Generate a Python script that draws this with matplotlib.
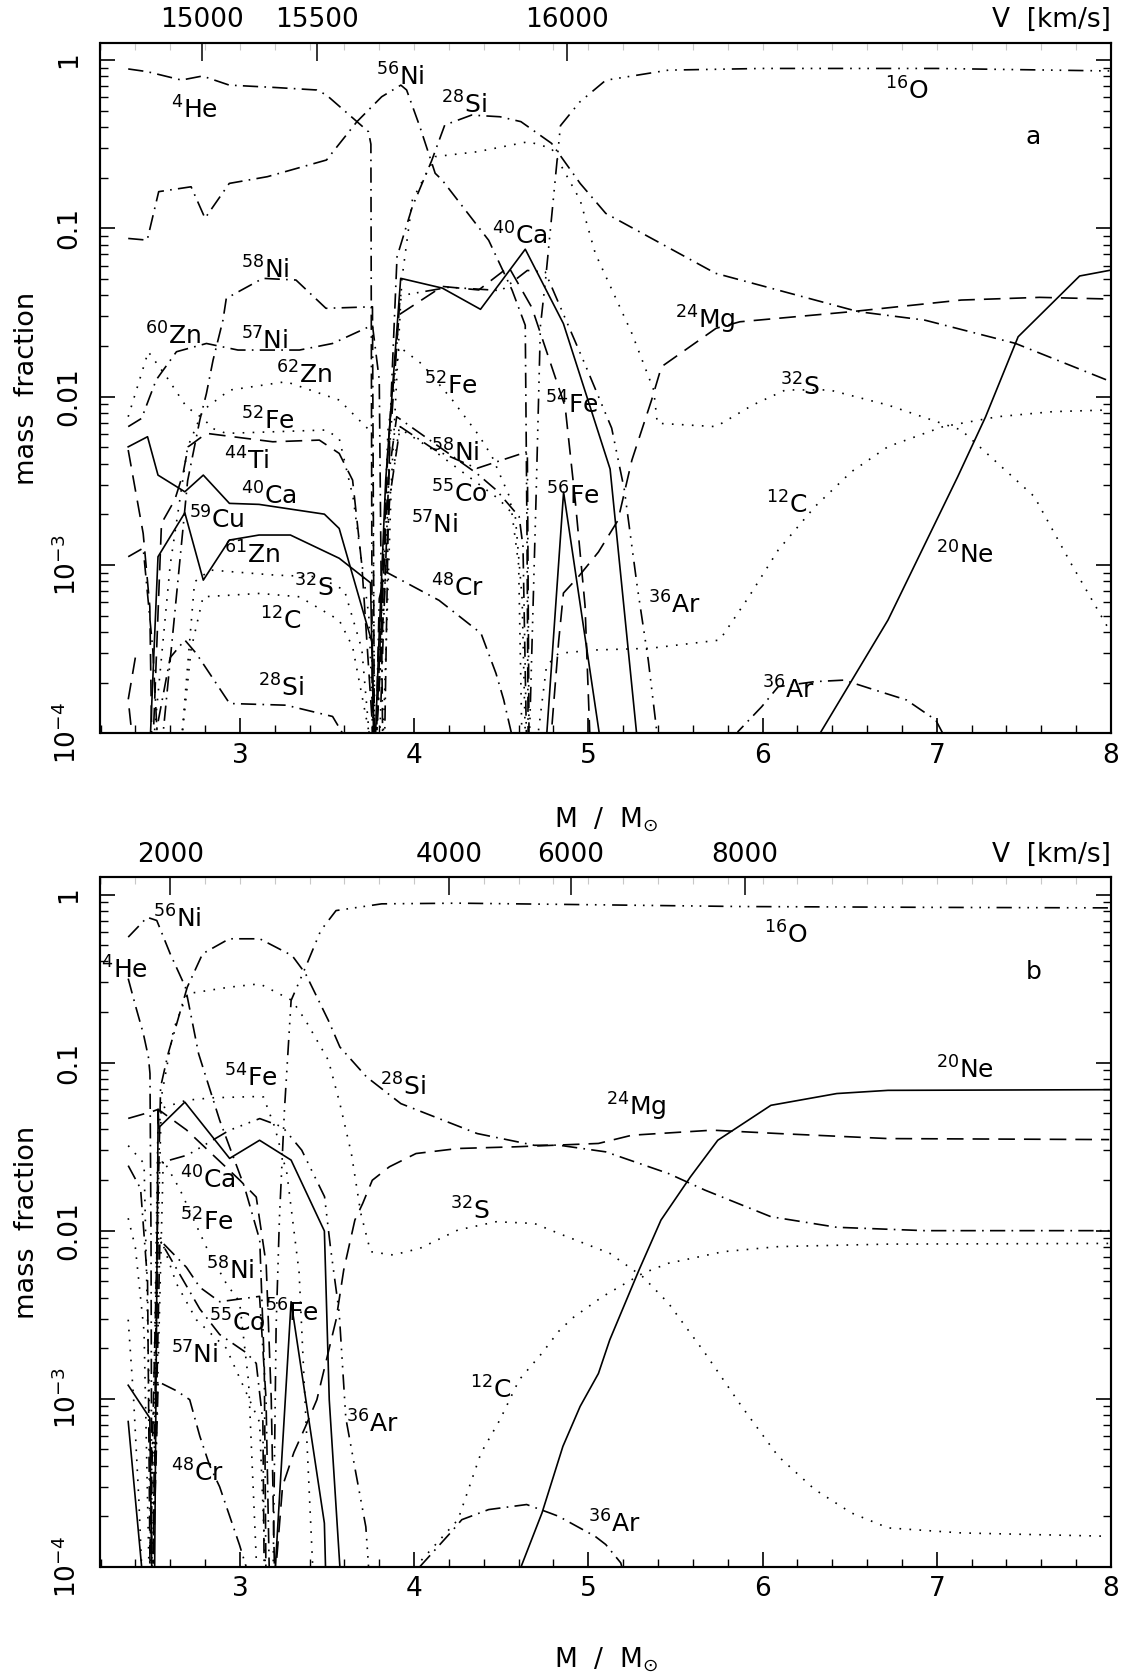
import numpy as np
import matplotlib.pyplot as plt
from matplotlib.ticker import MultipleLocator, FixedLocator, LogLocator, NullFormatter
from matplotlib.transforms import offset_copy

plt.rcParams['font.family'] = 'DejaVu Sans'
plt.rcParams['lines.scale_dashes'] = False

SOLID = '-'
DASH = (0, (12, 6.5))
DOT = (0, (1.2, 6))
DASHDOT = (0, (11, 4.5, 1.2, 4.5))
DASH3DOT = (0, (11, 5, 1.2, 5, 1.2, 5, 1.2, 5))

# ---------------- panel a : mass coordinate M/Msun, log10(mass fraction) ----------------
a_o16_m = [4.66, 4.70, 4.725, 4.755, 4.81, 4.84, 4.95, 5.10, 5.46, 6.0, 7.0, 8.0]
a_o16_lg = [-4.1, -2.6, -1.58, -1.30, -0.71, -0.39, -0.25, -0.12, -0.06, -0.05, -0.05, -0.065]
a_he4_m = [2.359, 2.468, 2.665, 2.785, 2.939, 3.20, 3.442, 3.497, 3.672, 3.738, 3.752, 3.76]
a_he4_lg = [-0.053, -0.069, -0.119, -0.095, -0.149, -0.163, -0.178, -0.208, -0.366, -0.426, -0.5, -4.1]
a_ni56_m = [2.359, 2.468, 2.534, 2.72, 2.80, 2.939, 3.158, 3.497, 3.672, 3.814, 3.924, 3.957,
            4.033, 4.121, 4.161, 4.428, 4.562, 4.638, 4.648, 4.655]
a_ni56_lg = [-1.06, -1.07, -0.782, -0.753, -0.94, -0.733, -0.693, -0.594, -0.366, -0.218, -0.149, -0.178,
             -0.396, -0.673, -0.713, -1.071, -1.366, -1.576, -2.82, -4.1]
a_si28_m = [3.83, 3.86, 3.902, 3.99, 4.10, 4.176, 4.33, 4.493, 4.613, 4.789, 4.953, 5.10, 5.73, 6.55, 6.93, 7.45, 8.0]
a_si28_lg = [-4.1, -2.2, -1.169, -0.871, -0.60, -0.386, -0.327, -0.337, -0.366, -0.495, -0.733, -0.911,
             -1.267, -1.495, -1.545, -1.683, -1.911]
a_si28l_m = [2.50, 2.60, 2.684, 2.75, 2.941, 3.265, 3.532, 3.647]
a_si28l_lg = [-4.1, -3.55, -3.446, -3.526, -3.823, -3.833, -3.90, -4.1]
a_ca40_m = [2.359, 2.47, 2.53, 2.684, 2.79, 2.94, 3.11, 3.485, 3.57, 3.76, 3.772, 3.80, 3.837, 3.923,
            4.162, 4.381, 4.638, 4.857, 5.125, 5.277]
a_ca40_lg = [-2.298, -2.238, -2.466, -2.565, -2.466, -2.634, -2.64, -2.698, -2.783, -3.466, -4.2, -3.4, -2.495,
             -1.297, -1.355, -1.481, -1.124, -1.566, -2.43, -4.0]
a_cu59_m = [2.483, 2.53, 2.684, 2.79, 2.94, 3.11, 3.29, 3.57, 3.75, 3.77]
a_cu59_lg = [-4.1, -2.951, -2.69, -3.09, -2.852, -2.822, -2.822, -2.96, -3.106, -4.1]
a_fe56_m = [4.755, 4.858, 5.077]
a_fe56_lg = [-4.1, -2.567, -4.1]
a_ne20_m = [6.25, 6.33, 6.72, 7.12, 7.28, 7.467, 7.82, 8.0]
a_ne20_lg = [-4.3, -4.0, -3.327, -2.476, -2.12, -1.644, -1.283, -1.248]
a_mg24_m = [4.78, 4.83, 4.857, 4.943, 5.058, 5.17, 5.25, 5.363, 5.42, 5.733, 5.87, 6.51, 7.14, 7.59, 8.0]
a_mg24_lg = [-4.1, -3.45, -3.167, -3.07, -2.923, -2.735, -2.377, -2.02, -1.822, -1.594, -1.555, -1.495,
             -1.426, -1.41, -1.42]
a_c12_m = [4.70, 4.76, 4.829, 5.04, 5.354, 5.754, 5.922, 6.09, 6.30, 6.51, 6.72, 7.036, 7.35, 7.666, 7.99]
a_c12_lg = [-4.1, -3.6, -3.525, -3.505, -3.495, -3.446, -3.188, -2.911, -2.654, -2.446, -2.297, -2.178,
            -2.119, -2.089, -2.079]
a_c12l_m = [2.66, 2.72, 2.789, 3.113, 3.342, 3.57, 3.647, 3.742]
a_c12l_lg = [-4.1, -3.5, -3.189, -3.169, -3.189, -3.328, -3.486, -4.0]
a_s32_m = [3.82, 3.87, 3.93, 3.99, 4.121, 4.362, 4.657, 4.789, 4.953, 5.04, 5.25, 5.375, 5.396, 5.733,
           5.943, 6.132, 6.384, 6.72, 7.14, 7.56, 7.77, 7.99]
a_s32_lg = [-4.1, -2.5, -1.3, -0.832, -0.574, -0.545, -0.485, -0.525, -0.832, -1.149, -1.624, -1.96, -2.158,
            -2.178, -2.05, -1.96, -1.96, -2.05, -2.198, -2.594, -2.99, -3.386]
a_s32l_m = [2.66, 2.74, 2.83, 3.2, 3.45, 3.6, 3.70, 3.75]
a_s32l_lg = [-4.1, -3.1, -3.03, -3.06, -3.07, -3.15, -3.5, -4.1]
a_ar36l_m = [5.80, 5.859, 5.995, 6.09, 6.30, 6.468, 6.615, 6.826, 6.994, 7.06]
a_ar36l_lg = [-4.2, -3.99, -3.842, -3.723, -3.693, -3.684, -3.733, -3.802, -3.921, -4.05]
a_ar36_m = [3.80, 3.86, 3.92, 4.2, 4.5, 4.65, 4.753, 4.981, 5.134, 5.207, 5.281, 5.344, 5.40]
a_ar36_lg = [-4.1, -2.3, -1.40, -1.35, -1.37, -1.25, -1.26, -1.808, -2.187, -2.555, -3.13, -3.565, -4.05]
a_fe54_m = [3.78, 3.85, 3.914, 4.162, 4.371, 4.543, 4.676, 4.867, 4.924, 4.981, 5.01]
a_fe54_lg = [-4.1, -2.3, -1.513, -1.345, -1.366, -1.229, -1.471, -2.06, -2.608, -3.24, -4.05]
a_ni58_m = [2.55, 2.70, 2.77, 2.808, 2.846, 2.903, 2.922, 3.132, 3.322, 3.494, 3.761, 3.772]
a_ni58_lg = [-4.1, -2.5, -2.139, -1.981, -1.783, -1.545, -1.416, -1.297, -1.307, -1.475, -1.466, -4.1]
a_ni58r_m = [3.78, 3.86, 3.92, 4.12, 4.36, 4.65, 4.66]
a_ni58r_lg = [-4.1, -2.6, -2.178, -2.317, -2.426, -2.327, -4.1]
a_zn60_m = [2.359, 2.474, 2.579, 2.693, 2.789, 2.846, 2.922, 3.208, 3.494, 3.57, 3.65, 3.74, 3.77]
a_zn60_lg = [-2.119, -1.733, -1.882, -2.06, -2.13, -2.19, -2.218, -2.208, -2.198, -2.248, -2.6, -3.3, -4.1]
a_ni57_m = [2.359, 2.436, 2.483, 2.52, 2.636, 2.808, 2.989, 3.342, 3.532, 3.761, 3.80, 3.82]
a_ni57_lg = [-2.178, -2.129, -2.0, -1.9, -1.733, -1.684, -1.723, -1.723, -1.684, -1.575, -1.9, -4.1]
a_zn62_m = [2.50, 2.60, 2.70, 2.789, 2.941, 3.265, 3.57, 3.761, 3.775]
a_zn62_lg = [-4.1, -3.0, -2.3, -2.08, -1.961, -1.911, -2.02, -2.218, -4.1]
a_ti44l_m = [2.359, 2.445, 2.483, 2.495]
a_ti44l_lg = [-2.317, -2.813, -3.248, -4.1]
a_ti44_m = [2.50, 2.55, 2.626, 2.674, 2.703, 2.808, 3.189, 3.456, 3.57, 3.647, 3.70, 3.77]
a_ti44_lg = [-4.1, -2.753, -2.614, -2.456, -2.298, -2.218, -2.268, -2.258, -2.337, -2.496, -3.0, -4.1]
a_fe52_m = [3.78, 3.85, 3.914, 4.047, 4.219, 4.371, 4.447, 4.55, 4.60, 4.62]
a_fe52_lg = [-4.1, -2.2, -1.703, -1.808, -2.019, -2.229, -2.355, -2.6, -3.0, -4.1]
a_co55_m = [3.78, 3.85, 3.9, 4.143, 4.36, 4.472, 4.603, 4.625, 4.646]
a_co55_lg = [-4.1, -2.5, -2.119, -2.297, -2.456, -2.555, -2.713, -2.891, -4.1]
a_ni57r_m = [3.78, 3.86, 3.914, 4.104, 4.295, 4.486, 4.581, 4.62, 4.64]
a_ni57r_lg = [-4.1, -2.6, -2.187, -2.313, -2.461, -2.608, -2.713, -3.2, -4.1]
a_cr48_m = [3.78, 3.80, 3.836, 4.143, 4.384, 4.47, 4.514, 4.57]
a_cr48_lg = [-4.1, -3.2, -3.04, -3.21, -3.406, -3.644, -3.8, -4.05]
a_zn61_m = [2.359, 2.445, 2.50, 2.53]
a_zn61_lg = [-2.951, -2.9, -3.5, -4.1]
a_cu57_m = [2.40, 2.359, 2.39]
a_cu57_lg = [-3.55, -3.8, -4.1]

# ---------------- panel b ----------------
b_o16_m = [3.19, 3.208, 3.227, 3.256, 3.294, 3.377, 3.464, 3.552, 3.814, 4.252, 5.0, 5.88, 7.0, 7.99]
b_o16_lg = [-4.1, -2.574, -1.926, -1.278, -0.63, -0.432, -0.214, -0.095, -0.055, -0.051, -0.06, -0.071, -0.076, -0.079]
b_he4_m = [2.359, 2.403, 2.446, 2.475, 2.484, 2.49, 2.495]
b_he4_lg = [-0.50, -0.67, -0.828, -0.967, -1.065, -2.056, -4.1]
b_ni56_m = [2.359, 2.468, 2.523, 2.60, 2.687, 2.763, 2.884, 3.026, 3.114, 3.14, 3.15]
b_ni56_lg = [-0.253, -0.135, -0.154, -0.352, -0.55, -0.947, -1.343, -1.739, -2.056, -2.8, -4.1]
b_si28_m = [2.48, 2.545, 2.588, 2.654, 2.698, 2.786, 2.939, 3.114, 3.30, 3.377, 3.508, 3.574, 3.727, 3.924,
            4.362, 4.69, 4.829, 5.10, 5.46, 5.67, 6.048, 6.426, 6.93, 7.99]
b_si28_lg = [-4.1, -1.145, -0.947, -0.709, -0.551, -0.352, -0.263, -0.263, -0.363, -0.471, -0.749, -0.907,
             -1.085, -1.244, -1.422, -1.492, -1.491, -1.531, -1.66, -1.759, -1.917, -1.98, -2.0, -2.0]
b_s32_m = [2.48, 2.55, 2.62, 2.698, 2.939, 3.114, 3.30, 3.377, 3.508, 3.574, 3.64, 3.694, 3.75, 3.88, 4.034,
           4.252, 4.471, 4.69, 4.829, 5.123, 5.312, 5.46, 5.67, 5.88, 6.09, 6.30, 6.51, 6.72, 7.14, 7.99]
b_s32_lg = [-4.1, -1.2, -0.8, -0.59, -0.551, -0.531, -0.63, -0.749, -0.986, -1.244, -1.541, -1.897, -2.125,
            -2.145, -2.105, -1.996, -1.947, -1.957, -2.016, -2.135, -2.274, -2.432, -2.729, -3.046, -3.343,
            -3.541, -3.68, -3.769, -3.799, -3.819]
b_c12_m = [3.95, 4.011, 4.252, 4.384, 4.493, 4.603, 4.734, 4.829, 4.909, 5.081, 5.312, 5.46, 5.775, 6.09, 6.72, 7.99]
b_c12_lg = [-4.3, -3.997, -3.72, -3.323, -3.125, -2.888, -2.729, -2.6, -2.52, -2.393, -2.254, -2.194, -2.125,
            -2.095, -2.08, -2.076]
b_mg24_m = [3.20, 3.245, 3.31, 3.377, 3.442, 3.552, 3.596, 3.66, 3.705, 3.76, 3.858, 4.011, 4.252, 4.581,
            5.058, 5.25, 5.712, 6.09, 6.72, 7.99]
b_mg24_lg = [-4.1, -3.52, -3.32, -3.165, -3.006, -2.531, -2.234, -1.937, -1.838, -1.70, -1.62, -1.541, -1.511,
             -1.501, -1.481, -1.432, -1.402, -1.422, -1.452, -1.458]
b_ne20_m = [4.55, 4.614, 4.734, 4.854, 4.953, 5.058, 5.123, 5.291, 5.417, 5.586, 5.743, 6.048, 6.426, 6.72, 7.99]
b_ne20_lg = [-4.3, -4.0, -3.68, -3.284, -3.046, -2.85, -2.65, -2.234, -1.937, -1.68, -1.462, -1.254, -1.184,
             -1.165, -1.161]
b_ar36l_m = [4.033, 4.208, 4.274, 4.428, 4.646, 4.778, 4.829, 5.04, 5.10, 5.186, 5.22]
b_ar36l_lg = [-4.0, -3.799, -3.72, -3.66, -3.63, -3.68, -3.7, -3.82, -3.868, -3.977, -4.1]
b_ar36_m = [2.50, 2.53, 2.70, 2.939, 3.114, 3.245, 3.355, 3.486, 3.52, 3.57, 3.608, 3.665, 3.723, 3.745]
b_ar36_lg = [-4.1, -1.6, -1.55, -1.403, -1.333, -1.383, -1.521, -1.798, -2.1, -2.488, -3.115, -3.439, -3.763, -4.1]
b_ca40_m = [2.51, 2.531, 2.535, 2.684, 2.941, 3.113, 3.294, 3.485, 3.513, 3.58]
b_ca40_lg = [-4.1, -1.278, -1.386, -1.235, -1.57, -1.462, -1.58, -2.002, -3.007, -4.1]
b_cu59_m = [2.359, 2.483, 2.495]
b_cu59_lg = [-2.92, -3.115, -4.1]
b_zn61_m = [2.359, 2.445]
b_zn61_lg = [-3.136, -4.1]
b_fe56_m = [3.198, 3.294, 3.485, 3.494]
b_fe56_lg = [-4.1, -2.423, -3.741, -4.1]
b_fe54_m = [2.49, 2.531, 2.693, 2.846, 3.094, 3.135, 3.20, 3.27, 3.34, 3.418]
b_fe54_lg = [-4.1, -1.278, -1.224, -1.209, -1.202, -1.204, -1.383, -1.66, -2.25, -4.0]
b_ni58_m = [2.50, 2.531, 2.693, 2.77, 2.884, 3.113, 3.15, 3.17]
b_ni58_lg = [-4.1, -2.045, -2.218, -2.337, -2.423, -2.391, -3.0, -4.1]
b_co55_m = [2.50, 2.531, 2.636, 2.75, 2.922, 3.113, 3.15]
b_co55_lg = [-4.1, -2.0, -2.315, -2.53, -2.70, -3.14, -4.1]
b_ni57_m = [2.50, 2.541, 2.674, 2.77, 2.884, 3.036, 3.094, 3.132, 3.14]
b_ni57_lg = [-4.1, -2.056, -2.294, -2.466, -2.618, -2.726, -2.79, -3.136, -4.1]
b_cr48_m = [2.50, 2.531, 2.636, 2.712, 2.77, 2.826, 2.884, 2.941, 2.998, 3.036]
b_cr48_lg = [-4.1, -2.899, -2.953, -3.006, -3.223, -3.396, -3.525, -3.698, -3.871, -4.0]
b_fe52_m = [2.50, 2.56, 2.655, 2.731, 2.808, 2.922, 2.998, 3.05, 3.10]
b_fe52_lg = [-4.1, -1.58, -1.753, -1.926, -2.099, -2.315, -2.423, -2.9, -4.1]
b_ti44_m = [2.359, 2.50, 2.531, 2.693, 2.846, 3.0, 3.094, 3.151, 3.18, 3.20]
b_ti44_lg = [-1.332, -1.29, -1.278, -1.40, -1.55, -1.70, -1.80, -2.2, -3.0, -4.1]
b_zn60_m = [2.359, 2.45, 2.48, 2.49]
b_zn60_lg = [-1.494, -1.6, -3.0, -4.1]
b_zn62_m = [2.359, 2.43, 2.47, 2.485]
b_zn62_lg = [-1.613, -1.75, -2.3, -4.1]
b_cu58_m = [2.359, 2.40, 2.45, 2.48]
b_cu58_lg = [-1.926, -2.1, -2.6, -4.1]
b_cu57_m = [2.359, 2.39, 2.42, 2.44]
b_cu57_lg = [-2.53, -3.0, -3.6, -4.1]

# velocity axis (top) : velocities and the mass coordinate where they sit
a_vel = ['15000', '15500', '16000']
a_vel_m = [2.78, 3.44, 4.88]
b_vel = ['2000', '4000', '6000', '8000']
b_vel_m = [2.60, 4.20, 4.90, 5.90]

curves_a = [
    (a_o16_m, a_o16_lg, DASH3DOT), (a_he4_m, a_he4_lg, DASHDOT), (a_ni56_m, a_ni56_lg, DASHDOT),
    (a_si28_m, a_si28_lg, DASHDOT), (a_si28l_m, a_si28l_lg, DASHDOT), (a_ca40_m, a_ca40_lg, SOLID),
    (a_cu59_m, a_cu59_lg, SOLID), (a_fe56_m, a_fe56_lg, SOLID), (a_ne20_m, a_ne20_lg, SOLID),
    (a_mg24_m, a_mg24_lg, DASH), (a_c12_m, a_c12_lg, DOT), (a_c12l_m, a_c12l_lg, DOT),
    (a_s32_m, a_s32_lg, DOT), (a_s32l_m, a_s32l_lg, DOT), (a_ar36l_m, a_ar36l_lg, DASHDOT),
    (a_ar36_m, a_ar36_lg, DASH3DOT), (a_fe54_m, a_fe54_lg, DASH), (a_ni58_m, a_ni58_lg, DASHDOT),
    (a_ni58r_m, a_ni58r_lg, DASHDOT), (a_zn60_m, a_zn60_lg, DOT), (a_ni57_m, a_ni57_lg, DASHDOT),
    (a_zn62_m, a_zn62_lg, DOT), (a_ti44l_m, a_ti44l_lg, DASH), (a_ti44_m, a_ti44_lg, DASH),
    (a_fe52_m, a_fe52_lg, DOT), (a_co55_m, a_co55_lg, DASHDOT), (a_ni57r_m, a_ni57r_lg, DOT),
    (a_cr48_m, a_cr48_lg, DASHDOT), (a_zn61_m, a_zn61_lg, DASHDOT), (a_cu57_m, a_cu57_lg, DASH),
]
curves_b = [
    (b_o16_m, b_o16_lg, DASH3DOT), (b_he4_m, b_he4_lg, DASHDOT), (b_ni56_m, b_ni56_lg, DASHDOT),
    (b_si28_m, b_si28_lg, DASHDOT), (b_s32_m, b_s32_lg, DOT), (b_c12_m, b_c12_lg, DOT),
    (b_mg24_m, b_mg24_lg, DASH), (b_ne20_m, b_ne20_lg, SOLID), (b_ar36l_m, b_ar36l_lg, DASHDOT),
    (b_ar36_m, b_ar36_lg, DASH3DOT), (b_ca40_m, b_ca40_lg, SOLID), (b_cu59_m, b_cu59_lg, SOLID),
    (b_zn61_m, b_zn61_lg, SOLID), (b_fe56_m, b_fe56_lg, SOLID), (b_fe54_m, b_fe54_lg, DOT),
    (b_ni58_m, b_ni58_lg, DASHDOT), (b_co55_m, b_co55_lg, DOT), (b_ni57_m, b_ni57_lg, DASHDOT),
    (b_cr48_m, b_cr48_lg, DASHDOT), (b_fe52_m, b_fe52_lg, DOT), (b_ti44_m, b_ti44_lg, DASH),
    (b_zn60_m, b_zn60_lg, DOT), (b_zn62_m, b_zn62_lg, DASHDOT), (b_cu58_m, b_cu58_lg, DOT),
    (b_cu57_m, b_cu57_lg, DOT),
]

# label text, M, log10 X (left edge / baseline)
labels_a = [
    ('$^{4}$He', 2.604, -0.347), ('$^{56}$Ni', 3.782, -0.149), ('$^{28}$Si', 4.154, -0.317),
    ('$^{16}$O', 6.70, -0.234), ('$^{58}$Ni', 3.004, -1.297), ('$^{40}$Ca', 4.449, -1.099),
    ('$^{60}$Zn', 2.457, -1.693), ('$^{57}$Ni', 3.004, -1.723), ('$^{62}$Zn', 3.206, -1.921),
    ('$^{52}$Fe', 4.055, -1.99), ('$^{54}$Fe', 4.753, -2.103), ('$^{24}$Mg', 5.50, -1.594),
    ('$^{32}$S', 6.10, -1.991), ('$^{52}$Fe', 3.004, -2.198), ('$^{44}$Ti', 2.906, -2.436),
    ('$^{40}$Ca', 3.004, -2.644), ('$^{59}$Cu', 2.709, -2.782), ('$^{61}$Zn', 2.906, -2.99),
    ('$^{32}$S', 3.311, -3.188), ('$^{12}$C', 3.114, -3.386), ('$^{28}$Si', 3.103, -3.783),
    ('$^{58}$Ni', 4.099, -2.386), ('$^{55}$Co', 4.099, -2.630), ('$^{57}$Ni', 3.985, -2.815),
    ('$^{56}$Fe', 4.756, -2.644), ('$^{48}$Cr', 4.099, -3.188), ('$^{36}$Ar', 5.344, -3.287),
    ('$^{12}$C', 6.017, -2.693), ('$^{20}$Ne', 6.994, -2.99), ('$^{36}$Ar', 5.995, -3.792),
    ('a', 7.51, -0.499),
]
labels_b = [
    ('$^{56}$Ni', 2.501, -0.194), ('$^{4}$He', 2.20, -0.501), ('$^{16}$O', 6.006, -0.293),
    ('$^{54}$Fe', 2.906, -1.145), ('$^{28}$Si', 3.804, -1.194), ('$^{24}$Mg', 5.102, -1.313),
    ('$^{20}$Ne', 6.994, -1.095), ('$^{40}$Ca', 2.654, -1.749), ('$^{52}$Fe', 2.654, -1.997),
    ('$^{32}$S', 4.204, -1.937), ('$^{58}$Ni', 2.808, -2.294), ('$^{55}$Co', 2.825, -2.60),
    ('$^{56}$Fe', 3.145, -2.542), ('$^{57}$Ni', 2.607, -2.79), ('$^{36}$Ar', 3.609, -3.201),
    ('$^{48}$Cr', 2.607, -3.493), ('$^{12}$C', 4.318, -2.997), ('$^{36}$Ar', 4.997, -3.799),
    ('b', 7.51, -0.501),
]


def draw_panel(fig, rect, curves, labels, vel_m, vel_lab, xlab_y):
    ax = fig.add_axes(rect)
    for m, lg, ls in curves:
        ax.plot(m, np.power(10.0, lg), ls=ls, color='black', lw=1.2)
    for txt, m, lg in labels:
        ax.text(m, 10.0 ** lg, txt, ha='left', va='baseline', fontsize=18)

    ax.set_yscale('log')
    ax.set_xlim(2.2, 8.0)
    ax.set_ylim(1e-4, 10 ** 0.103)
    ax.xaxis.set_major_locator(FixedLocator([3, 4, 5, 6, 7, 8]))
    ax.xaxis.set_minor_locator(MultipleLocator(0.2))
    ax.set_yticks([1e-4, 1e-3, 1e-2, 0.1, 1])
    ax.set_yticklabels(['$10^{-4}$', '$10^{-3}$', '0.01', '0.1', '1'], rotation=90, va='center')
    ax.yaxis.set_minor_locator(LogLocator(base=10, subs=np.arange(2, 10), numticks=20))
    ax.yaxis.set_minor_formatter(NullFormatter())

    # top axis: velocity
    ax2 = ax.twiny()
    ax2.set_xlim(ax.get_xlim())
    ax2.set_xticks(vel_m)
    ax2.set_xticklabels(vel_lab)
    ax2.xaxis.set_minor_locator(MultipleLocator(0.2))
    ax2.tick_params(which='major', direction='in', length=13, width=1.1, labelsize=19, pad=7)
    ax2.tick_params(which='minor', direction='in', length=5, width=0.8, color='#c8c8c8')

    ax.tick_params(which='both', direction='in', right=True, top=False)
    ax.tick_params(which='major', length=11, width=1.2, labelsize=19)
    ax.tick_params(axis='x', which='major', pad=7)
    ax.tick_params(axis='y', which='major', pad=13)
    ax.tick_params(which='minor', length=5.5, width=1.0)
    for a in (ax, ax2):
        for s in a.spines.values():
            s.set_linewidth(1.5)

    tr = offset_copy(ax.transAxes, fig=fig, y=7, units='points')
    ax.text(1.0, 1.0, 'V  [km/s]', transform=tr, ha='right', va='bottom', fontsize=19)

    fig.text(27 / 1136, rect[1] + rect[3] / 2, 'mass  fraction', rotation=90,
             ha='center', va='center', fontsize=19.5)
    fig.text(605.5 / 1136, xlab_y, r'M  /  M$_{\odot}$', ha='center', va='center', fontsize=19)
    return ax


fig = plt.figure(figsize=(11.36, 16.8), dpi=100)
left = 100.5 / 1136
width = (1111 - 100.5) / 1136
draw_panel(fig, [left, 1 - 733.3 / 1680, width, (733.3 - 42.7) / 1680],
           curves_a, labels_a, a_vel_m, a_vel, 1 - 820 / 1680)
draw_panel(fig, [left, 1 - 1566.7 / 1680, width, (1566.7 - 877.3) / 1680],
           curves_b, labels_b, b_vel_m, b_vel, 1 - 1660 / 1680)

fig.savefig('out.png', dpi=100)
